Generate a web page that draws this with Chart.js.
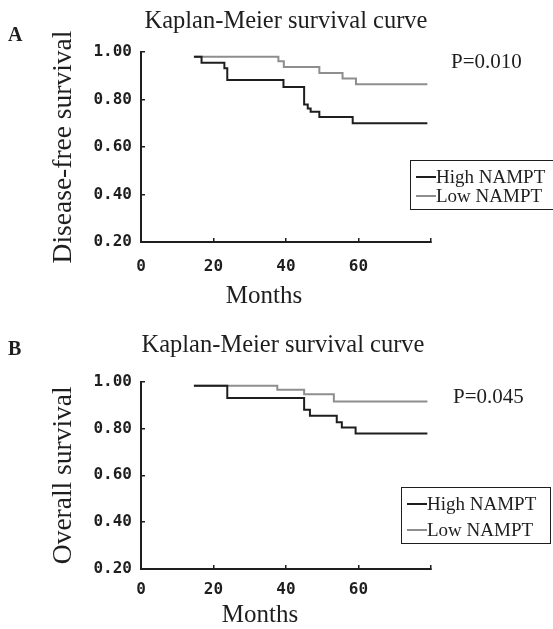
<!DOCTYPE html>
<html lang="en">
<head>
<meta charset="UTF-8">
<title>Kaplan-Meier survival curves</title>
<style>
  body { margin: 0; background: #fff; }
  #page { position: relative; width: 553px; height: 629px; overflow: hidden;
          font-family: "Liberation Serif", "Times New Roman", serif; color: #1e1e1e; }
  canvas { position: absolute; left: 0; }
  .txt { position: absolute; white-space: nowrap; line-height: 1; }
  .letter { font-weight: bold; font-size: 20px; }
  .title { font-size: 24.5px; transform: translateX(-50%); }
  .pval { font-size: 21px; }
  .xlab { font-size: 25px; transform: translateX(-50%); }
  .legbox { position: absolute; border: 1.5px solid #1e1e1e; box-sizing: border-box; }
  .legrow { position: absolute; font-size: 19px; line-height: 20px; height: 20px; white-space: nowrap; }
  .legrow span { display: inline-block; width: 20px; vertical-align: middle; margin-top: -3px; }
</style>
<script src="https://cdn.jsdelivr.net/npm/chart.js@4"></script>
</head>
<body>
<div id="page">
  <canvas id="chartA" width="553" height="310" style="top:0"></canvas>
  <canvas id="chartB" width="553" height="319" style="top:310px"></canvas>

  <div class="txt letter" style="left:8px;top:24px">A</div>
  <div class="txt title" style="left:286px;top:8px">Kaplan-Meier survival curve</div>
  <div class="txt pval" style="left:451px;top:51px">P=0.010</div>
  <div class="txt xlab" style="left:264px;top:282px">Months</div>

  <div class="txt letter" style="left:8px;top:338px">B</div>
  <div class="txt title" style="left:283px;top:332px">Kaplan-Meier survival curve</div>
  <div class="txt pval" style="left:453px;top:386px">P=0.045</div>
  <div class="txt xlab" style="left:260px;top:601px">Months</div>
</div>

<script>
// Panel A - disease-free survival (months, survival proportion)
const dfsHighMonths = [14.6, 16.7, 23.0, 23.8, 39.3, 45.0, 46.0, 46.8, 49.2, 58.4, 79.0];
const dfsHighSurv   = [0.980, 0.955, 0.932, 0.882, 0.853, 0.779, 0.762, 0.748, 0.726, 0.700, 0.700];
const dfsLowMonths  = [14.6, 37.9, 39.4, 49.2, 55.6, 59.3, 79.0];
const dfsLowSurv    = [0.980, 0.961, 0.937, 0.912, 0.888, 0.864, 0.864];

// Panel B - overall survival
const osHighMonths = [14.6, 23.8, 45.0, 46.6, 54.0, 55.4, 59.2, 79.0];
const osHighSurv   = [0.982, 0.930, 0.880, 0.854, 0.826, 0.804, 0.778, 0.778];
const osLowMonths  = [14.6, 37.6, 45.0, 53.2, 79.0];
const osLowSurv    = [0.982, 0.965, 0.946, 0.915, 0.915];

const seriesLabels = ['High NAMPT', 'Low NAMPT'];
const seriesColors = ['#1e1e1e', '#8e8e8e'];
const xTicks = [0, 20, 40, 60, 80];
const yTicks = [0.2, 0.4, 0.6, 0.8, 1.0];

const ink = '#1e1e1e';
const tickFont = { family: 'DejaVu Sans Mono', size: 16, weight: 'bold' };

function points(months, surv) {
    return months.map((m, i) => ({ x: m, y: surv[i] }));
}

function makeChart(id, p) {
    const ctx = document.getElementById(id).getContext('2d');
    return new Chart(ctx, {
        type: 'line',
        data: {
            datasets: p.series.map((s, i) => ({
                label: seriesLabels[i],
                data: points(s[0], s[1]),
                borderColor: seriesColors[i],
                borderWidth: 2,
                stepped: 'before',
                pointRadius: 0,
                fill: false
            }))
        },
        options: {
            responsive: false,
            animation: false,
            layout: { padding: { left: 0, top: p.top, right: 122, bottom: 0 } },
            plugins: { legend: { display: false }, tooltip: { enabled: false } },
            scales: {
                x: {
                    type: 'linear',
                    min: 0, max: 80,
                    afterBuildTicks: s => { s.ticks = xTicks.map(v => ({ value: v })); },
                    afterFit: s => { s.height = p.xHeight; },
                    ticks: {
                        font: tickFont, color: ink, padding: p.xPad, maxRotation: 0,
                        callback: v => (v === 80 ? '' : v)
                    },
                    grid: { drawOnChartArea: false, tickLength: -4, color: ink, lineWidth: 1.5 },
                    border: { color: ink, width: 2 }
                },
                y: {
                    type: 'linear',
                    min: 0.2, max: 1.0,
                    afterBuildTicks: s => { s.ticks = yTicks.map(v => ({ value: v })); },
                    afterFit: s => { s.width = 141; },
                    ticks: { font: tickFont, color: ink, padding: 13, callback: v => v.toFixed(2) },
                    grid: { drawOnChartArea: false, tickLength: -4, color: ink, lineWidth: 1.5 },
                    border: { color: ink, width: 2 },
                    title: {
                        display: true, text: p.yTitle, color: ink,
                        font: { family: 'Liberation Serif', size: 27.5 },
                        padding: { top: 47, bottom: 0 }
                    }
                }
            }
        }
    });
}

// legend box drawn as html, rows from series labels/colours
function makeLegend(box, rows) {
    const page = document.getElementById('page');
    const b = document.createElement('div');
    b.className = 'legbox';
    Object.assign(b.style, { left: box[0] + 'px', top: box[1] + 'px', width: box[2] + 'px', height: box[3] + 'px' });
    page.appendChild(b);
    seriesLabels.forEach((lab, i) => {
        const r = document.createElement('div');
        r.className = 'legrow';
        r.style.left = rows.x + 'px';
        r.style.top = (rows.y[i] - 10) + 'px';
        r.innerHTML = '<span style="border-top:2px solid ' + seriesColors[i] + '"></span>' + lab;
        page.appendChild(r);
    });
}

makeChart('chartA', {
    series: [[dfsHighMonths, dfsHighSurv], [dfsLowMonths, dfsLowSurv]],
    yTitle: 'Disease-free survival',
    top: 52, xHeight: 68, xPad: 19.5
});
makeChart('chartB', {
    series: [[osHighMonths, osHighSurv], [osLowMonths, osLowSurv]],
    yTitle: 'Overall survival',
    top: 71.5, xHeight: 60, xPad: 15
});

makeLegend([410, 160, 150, 50], { x: 416, y: [177, 196] });
makeLegend([401, 487, 150, 57], { x: 407, y: [504, 530] });
</script>
</body>
</html>
